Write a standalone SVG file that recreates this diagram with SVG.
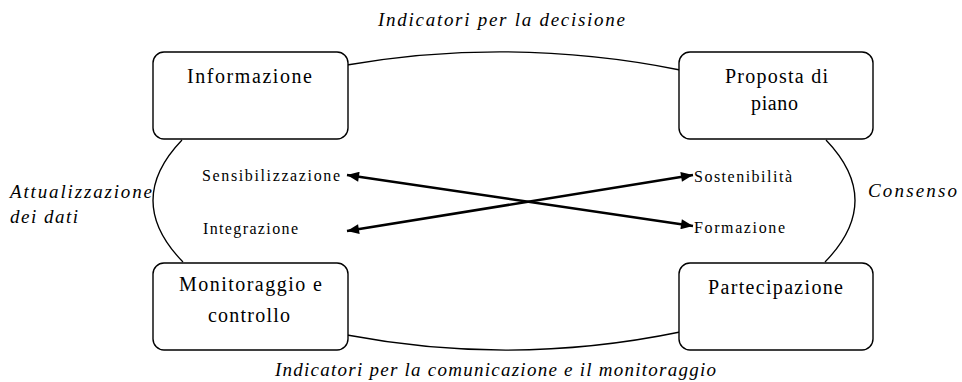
<svg xmlns="http://www.w3.org/2000/svg" width="962" height="382" viewBox="0 0 962 382">
<defs>
<style>
.box{fill:#fff;stroke:#000;stroke-width:1.4}
.link{fill:none;stroke:#000;stroke-width:1.3}
.arr{fill:none;stroke:#000;stroke-width:2.6}
.lbl{font-family:"Liberation Serif","Times New Roman",serif;font-size:20px;fill:#000}
.in{font-family:"Liberation Serif","Times New Roman",serif;font-size:16px;fill:#000}
.it{font-family:"Liberation Serif","Times New Roman",serif;font-style:italic;font-size:19px;fill:#000}
</style>
<marker id="ah" viewBox="0 0 12 10" refX="12" refY="5" markerWidth="13" markerHeight="10" markerUnits="userSpaceOnUse" orient="auto-start-reverse">
<path d="M0,0 L12,5 L0,10 Z" fill="#000"/>
</marker>
</defs>
<rect width="962" height="382" fill="#fff"/>
<g id="connectors">
<path class="link" d="M347,65 Q513,36.5 680,70"/>
<path class="link" d="M347,335 Q513,366.5 680,332"/>
<path class="link" d="M182,140 Q123.5,201 183,262"/>
<path class="link" d="M826,140 Q884.5,201 825,262"/>
<line class="arr" x1="347" y1="175" x2="693" y2="226" marker-start="url(#ah)" marker-end="url(#ah)"/>
<line class="arr" x1="347" y1="231" x2="693" y2="175" marker-start="url(#ah)" marker-end="url(#ah)"/>
</g>
<g id="informazione">
<rect class="box" x="153" y="52" width="195" height="87" rx="11"/>
<text class="lbl" x="187" y="83" textLength="125" lengthAdjust="spacing">Informazione</text>
</g>
<g id="proposta">
<rect class="box" x="679" y="52" width="194" height="87" rx="11"/>
<text class="lbl" x="725" y="83" textLength="103" lengthAdjust="spacing">Proposta di</text>
<text class="lbl" x="751" y="110" textLength="47" lengthAdjust="spacing">piano</text>
</g>
<g id="monitoraggio">
<rect class="box" x="153" y="263" width="195" height="87" rx="11"/>
<text class="lbl" x="179" y="291" textLength="143" lengthAdjust="spacing">Monitoraggio e</text>
<text class="lbl" x="208" y="322" textLength="82" lengthAdjust="spacing">controllo</text>
</g>
<g id="partecipazione">
<rect class="box" x="679" y="263" width="194" height="87" rx="11"/>
<text class="lbl" x="708" y="294" textLength="135" lengthAdjust="spacing">Partecipazione</text>
</g>
<g id="inner-labels">
<text class="in" x="202" y="181" textLength="138" lengthAdjust="spacing">Sensibilizzazione</text>
<text class="in" x="203" y="234" textLength="95" lengthAdjust="spacing">Integrazione</text>
<text class="in" x="694" y="182" textLength="98" lengthAdjust="spacing">Sostenibilità</text>
<text class="in" x="694" y="233" textLength="91" lengthAdjust="spacing">Formazione</text>
</g>
<g id="edge-labels">
<text class="it" x="378" y="26" textLength="247" lengthAdjust="spacing">Indicatori per la decisione</text>
<text class="it" x="275" y="376" textLength="441" lengthAdjust="spacing">Indicatori per la comunicazione e il monitoraggio</text>
<text class="it" x="10" y="198" textLength="142" lengthAdjust="spacing">Attualizzazione</text>
<text class="it" x="10" y="223" textLength="68" lengthAdjust="spacing">dei dati</text>
<text class="it" x="868" y="197" textLength="89" lengthAdjust="spacing">Consenso</text>
</g>
</svg>
